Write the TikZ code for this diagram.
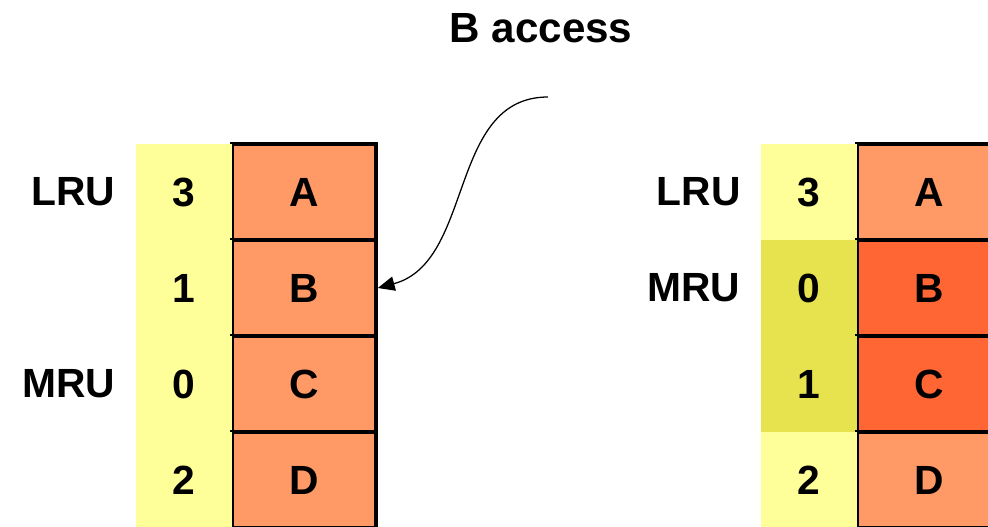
\documentclass[tikz,border=0pt]{standalone}
\usepackage{fontspec}
\setmainfont{Liberation Sans}
\usepackage{xcolor}
\usepackage{tikz}
\usetikzlibrary{positioning, arrows.meta}
\definecolor{ageYellow}{HTML}{FFFF99}
\definecolor{ageHot}{HTML}{E6E34F}
\definecolor{lineOrange}{HTML}{FF9966}
\definecolor{lineHot}{HTML}{FF6633}
\tikzset{
    age/.style={rectangle, fill=ageYellow, minimum width=2.4cm, minimum height=2.4cm, inner sep=0pt, font=\bfseries\fontsize{29}{34}\selectfont},
    cacheline/.style={rectangle, draw=black, line width=2.6pt, fill=lineOrange, minimum width=3.6cm, minimum height=2.4cm, inner sep=0pt, font=\bfseries\fontsize{29}{34}\selectfont},
    tag/.style={font=\bfseries\fontsize{29}{34}\selectfont, inner sep=0pt},
    arrow/.style={-{Triangle[length=0.42cm, width=0.36cm]}, line width=0.9pt}
}

\begin{document}
\begin{tikzpicture}
    \useasboundingbox (0,0) rectangle (24.7,-13.15);
    \clip (0,0) rectangle (24.7,-13.15);

    % Set before the access
    \foreach \blk/\age [count=\r] in {A/3, B/1, C/0, D/2} {
        \node[cacheline] (l\blk) at (7.6, {-2.4-2.4*\r}) {\blk};
        \node[age] (la\blk) at (4.6, {-2.4-2.4*\r}) {\age};
    }
    \node[tag, left=0.5cm of laA] (lLRU) {LRU};
    \node[tag, left=0.5cm of laC] (lMRU) {MRU};

    % Set after the access
    \foreach \blk/\age/\agecol/\blkcol [count=\r] in {A/3/ageYellow/lineOrange, B/0/ageHot/lineHot, C/1/ageHot/lineHot, D/2/ageYellow/lineOrange} {
        \node[cacheline, fill=\blkcol] (r\blk) at (23.225, {-2.4-2.4*\r}) {\blk};
        \node[age, fill=\agecol] (ra\blk) at (20.225, {-2.4-2.4*\r}) {\age};
    }
    \node[tag, left=0.5cm of raA] (rLRU) {LRU};
    \node[tag, left=0.5cm of raB] (rMRU) {MRU};

    % Access
    \node[tag, font=\bfseries\fontsize{30}{35}\selectfont] (access) at (13.525,-0.7) {B access};
    \coordinate (from) at (13.7,-2.425);
    \draw[arrow] (from) to[out=180, in=15] (lB.east);
\end{tikzpicture}
\end{document}
